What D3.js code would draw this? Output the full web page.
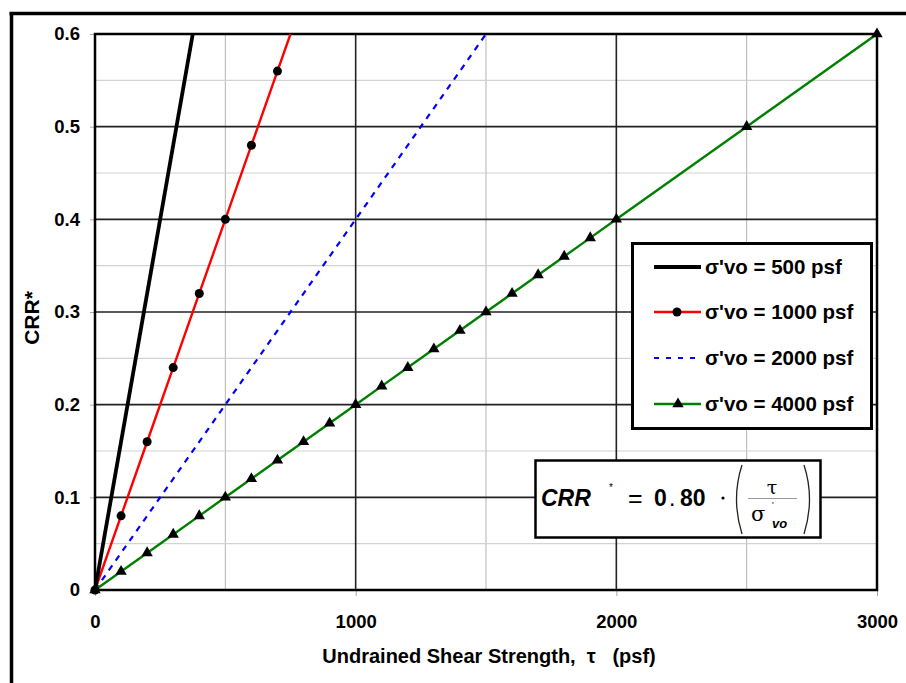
<!DOCTYPE html>
<html>
<head>
<meta charset="utf-8">
<script src="https://cdn.jsdelivr.net/npm/d3@7"></script>
<style>
  body { margin: 0; background: #fff; }
  svg text { font-family: "Liberation Sans", Arial, sans-serif; font-weight: bold; fill: #000; }
</style>
</head>
<body>
<div id="chart"></div>
<script>
// values
var tau500  = [0, 375];
var crr500  = [0, 0.6];
var tau1000 = [0, 100, 200, 300, 400, 500, 600, 700, 750];
var crr1000 = [0, 0.08, 0.16, 0.24, 0.32, 0.40, 0.48, 0.56, 0.60];
var tau2000 = [0, 1500];
var crr2000 = [0, 0.6];
var tau4000 = [0, 100, 200, 300, 400, 500, 600, 700, 800, 900, 1000, 1100, 1200, 1300, 1400, 1500, 1600, 1700, 1800, 1900, 2000, 2500, 3000];
var crr4000 = [0, 0.02, 0.04, 0.06, 0.08, 0.10, 0.12, 0.14, 0.16, 0.18, 0.20, 0.22, 0.24, 0.26, 0.28, 0.30, 0.32, 0.34, 0.36, 0.38, 0.40, 0.50, 0.60];

var xTicks = [0, 1000, 2000, 3000];
var yTicks = [0, 0.1, 0.2, 0.3, 0.4, 0.5, 0.6];
var legendLabels = ["σ'vo = 500 psf", "σ'vo = 1000 psf", "σ'vo = 2000 psf", "σ'vo = 4000 psf"];

var svgWidth = 906, svgHeight = 683;
var margin = { top: 34, right: 29, bottom: 93, left: 95 };
var width = svgWidth - margin.left - margin.right;   // 782
var height = svgHeight - margin.top - margin.bottom; // 556

var svg = d3.select("#chart").append("svg")
    .attr("width", svgWidth)
    .attr("height", svgHeight);

// outer frame (top and left only)
svg.append("line").attr("x1", 9.5).attr("x2", 906).attr("y1", 13.5).attr("y2", 13.5)
    .attr("stroke", "#000").attr("stroke-width", 3.5);
svg.append("line").attr("x1", 11.5).attr("x2", 11.5).attr("y1", 12).attr("y2", 683)
    .attr("stroke", "#000").attr("stroke-width", 3.5);

var g = svg.append("g").attr("transform", `translate(${margin.left},${margin.top})`);

var xScale = d3.scaleLinear().domain([0, 3000]).range([0, width]);
var yScale = d3.scaleLinear().domain([0, 0.6]).range([height, 0]);

// minor grid
var xMinor = [500, 1500, 2500];
var yMinor = [0.05, 0.15, 0.25, 0.35, 0.45, 0.55];
g.selectAll(".vminor").data(xMinor).enter().append("line")
    .attr("x1", d => xScale(d)).attr("x2", d => xScale(d))
    .attr("y1", 0).attr("y2", height)
    .attr("stroke", "#b4b4b4").attr("stroke-width", 1);
g.selectAll(".hminor").data(yMinor).enter().append("line")
    .attr("x1", 0).attr("x2", width)
    .attr("y1", d => yScale(d)).attr("y2", d => yScale(d))
    .attr("stroke", "#d2d2d2").attr("stroke-width", 1.2);

// major grid
g.selectAll(".vmajor").data([1000, 2000]).enter().append("line")
    .attr("x1", d => xScale(d)).attr("x2", d => xScale(d))
    .attr("y1", 0).attr("y2", height)
    .attr("stroke", "#222").attr("stroke-width", 1.6);
g.selectAll(".hmajor").data([0.1, 0.2, 0.3, 0.4, 0.5]).enter().append("line")
    .attr("x1", 0).attr("x2", width)
    .attr("y1", d => yScale(d)).attr("y2", d => yScale(d))
    .attr("stroke", "#222").attr("stroke-width", 1.6);

// axes
var xAxis = d3.axisBottom(xScale).tickValues(xTicks).tickSize(6).tickPadding(19).tickFormat(d3.format("d"));
var yAxis = d3.axisLeft(yScale).tickValues(yTicks).tickSize(5).tickPadding(10)
    .tickFormat(d => d === 0 ? "0" : d3.format(".1f")(d));

var gx = g.append("g").attr("transform", `translate(0,${height})`).call(xAxis);
var gy = g.append("g").call(yAxis);
[gx, gy].forEach(function (a) {
  a.select(".domain").remove();
  a.selectAll(".tick line").attr("stroke", "#aaa");
  a.selectAll(".tick text").style("font-size", "18.5px").style("font-family", "Liberation Sans, Arial, sans-serif").style("font-weight", "bold");
});

// plot frame
g.append("rect").attr("x", 0).attr("y", 0).attr("width", width).attr("height", height)
    .attr("fill", "none").attr("stroke", "#000").attr("stroke-width", 2.5);

// axis titles
svg.append("text")
    .attr("x", 489).attr("y", 663)
    .attr("text-anchor", "middle")
    .style("font-size", "20px")
    .style("white-space", "pre")
    .text("Undrained Shear Strength,  τ   (psf)");

svg.append("text")
    .attr("transform", "translate(39,318) rotate(-90)")
    .attr("text-anchor", "middle")
    .style("font-size", "21px")
    .text("CRR*");

// series
var line = d3.line().x(d => xScale(d[0])).y(d => yScale(d[1]));
function pairs(t, c) { return t.map((v, i) => [v, c[i]]); }

var s2000 = pairs(tau2000, crr2000);
var s4000 = pairs(tau4000, crr4000);
var s1000 = pairs(tau1000, crr1000);
var s500 = pairs(tau500, crr500);

g.append("path").datum(s2000).attr("d", line).attr("fill", "none")
    .attr("stroke", "#0000ff").attr("stroke-width", 2.2).attr("stroke-dasharray", "6,6");

g.append("path").datum(s4000).attr("d", line).attr("fill", "none")
    .attr("stroke", "#008000").attr("stroke-width", 2.4);
var tri = d3.symbol().type(d3.symbolTriangle).size(56);
g.selectAll(".tri").data(s4000).enter().append("path")
    .attr("d", tri)
    .attr("transform", d => `translate(${xScale(d[0])},${yScale(d[1])})`)
    .attr("fill", "#000");

g.append("path").datum(s1000).attr("d", line).attr("fill", "none")
    .attr("stroke", "#ff0000").attr("stroke-width", 2.4);
g.selectAll(".dot").data(s1000.slice(0, s1000.length - 1)).enter().append("circle")
    .attr("cx", d => xScale(d[0])).attr("cy", d => yScale(d[1]))
    .attr("r", 4.5).attr("fill", "#000");

g.append("path").datum(s500).attr("d", line).attr("fill", "none")
    .attr("stroke", "#000").attr("stroke-width", 3.8);

// legend
var legend = svg.append("g");
legend.append("rect").attr("x", 632.5).attr("y", 243.5).attr("width", 239).attr("height", 185)
    .attr("fill", "#fff").attr("stroke", "#000").attr("stroke-width", 3);
var legendY = [267, 312, 358, 404];
var legendStyle = [
  { color: "#000", w: 3.8, dash: null, marker: null },
  { color: "#ff0000", w: 2.4, dash: null, marker: "circle" },
  { color: "#0000ff", w: 2.2, dash: "5,7", marker: null },
  { color: "#008000", w: 2.4, dash: null, marker: "tri" }
];
legendLabels.forEach(function (lab, i) {
  var st = legendStyle[i];
  var y = legendY[i];
  legend.append("line").attr("x1", 654).attr("x2", 701).attr("y1", y).attr("y2", y)
      .attr("stroke", st.color).attr("stroke-width", st.w)
      .attr("stroke-dasharray", st.dash);
  if (st.marker === "circle") {
    legend.append("circle").attr("cx", 677).attr("cy", y).attr("r", 4.5).attr("fill", "#000");
  } else if (st.marker === "tri") {
    legend.append("path").attr("d", tri).attr("transform", `translate(678,${y})`).attr("fill", "#000");
  }
  legend.append("text").attr("x", 705).attr("y", y + 7)
      .style("font-size", "20.5px")
      .text(lab);
});

// formula box
var fb = svg.append("g");
fb.append("rect").attr("x", 535.5).attr("y", 460.5).attr("width", 285).attr("height", 77)
    .attr("fill", "#fff").attr("stroke", "#000").attr("stroke-width", 2.5);
fb.append("text").attr("x", 541).attr("y", 506)
    .style("font-size", "23px").style("font-style", "italic").text("CRR");
fb.append("text").attr("x", 609).attr("y", 491)
    .style("font-size", "10px").style("font-weight", "normal").text("*");
fb.append("text").attr("x", 628).attr("y", 507)
    .style("font-size", "25px").style("font-weight", "normal").text("=");
fb.append("text").attr("x", 654).attr("y", 506)
    .style("font-size", "23px").text("0");
fb.append("text").attr("x", 669).attr("y", 506)
    .style("font-size", "23px").style("font-weight", "normal").text(".");
fb.append("text").attr("x", 680).attr("y", 506)
    .style("font-size", "23px").text("80");
fb.append("circle").attr("cx", 723).attr("cy", 498).attr("r", 1.6).attr("fill", "#000");
fb.append("path").attr("d", "M742,465 Q731,499 742,534")
    .attr("fill", "none").attr("stroke", "#222").attr("stroke-width", 1.3);
fb.append("path").attr("d", "M804,465 Q815,499 804,534")
    .attr("fill", "none").attr("stroke", "#222").attr("stroke-width", 1.3);
fb.append("text").attr("x", 772).attr("y", 494).attr("text-anchor", "middle")
    .style("font-size", "19px").style("font-weight", "normal").style("font-family", "DejaVu Serif, serif").text("τ");
fb.append("line").attr("x1", 748).attr("x2", 797).attr("y1", 498.5).attr("y2", 498.5)
    .attr("stroke", "#999").attr("stroke-width", 1);
fb.append("text").attr("x", 751).attr("y", 521)
    .style("font-size", "21px").style("font-weight", "normal").style("font-family", "DejaVu Serif, serif").text("σ");
fb.append("text").attr("x", 772).attr("y", 508)
    .style("font-size", "9px").style("font-weight", "normal").text("'");
fb.append("text").attr("x", 772).attr("y", 528)
    .style("font-size", "13px").style("font-style", "italic").text("vo");
</script>
</body>
</html>
